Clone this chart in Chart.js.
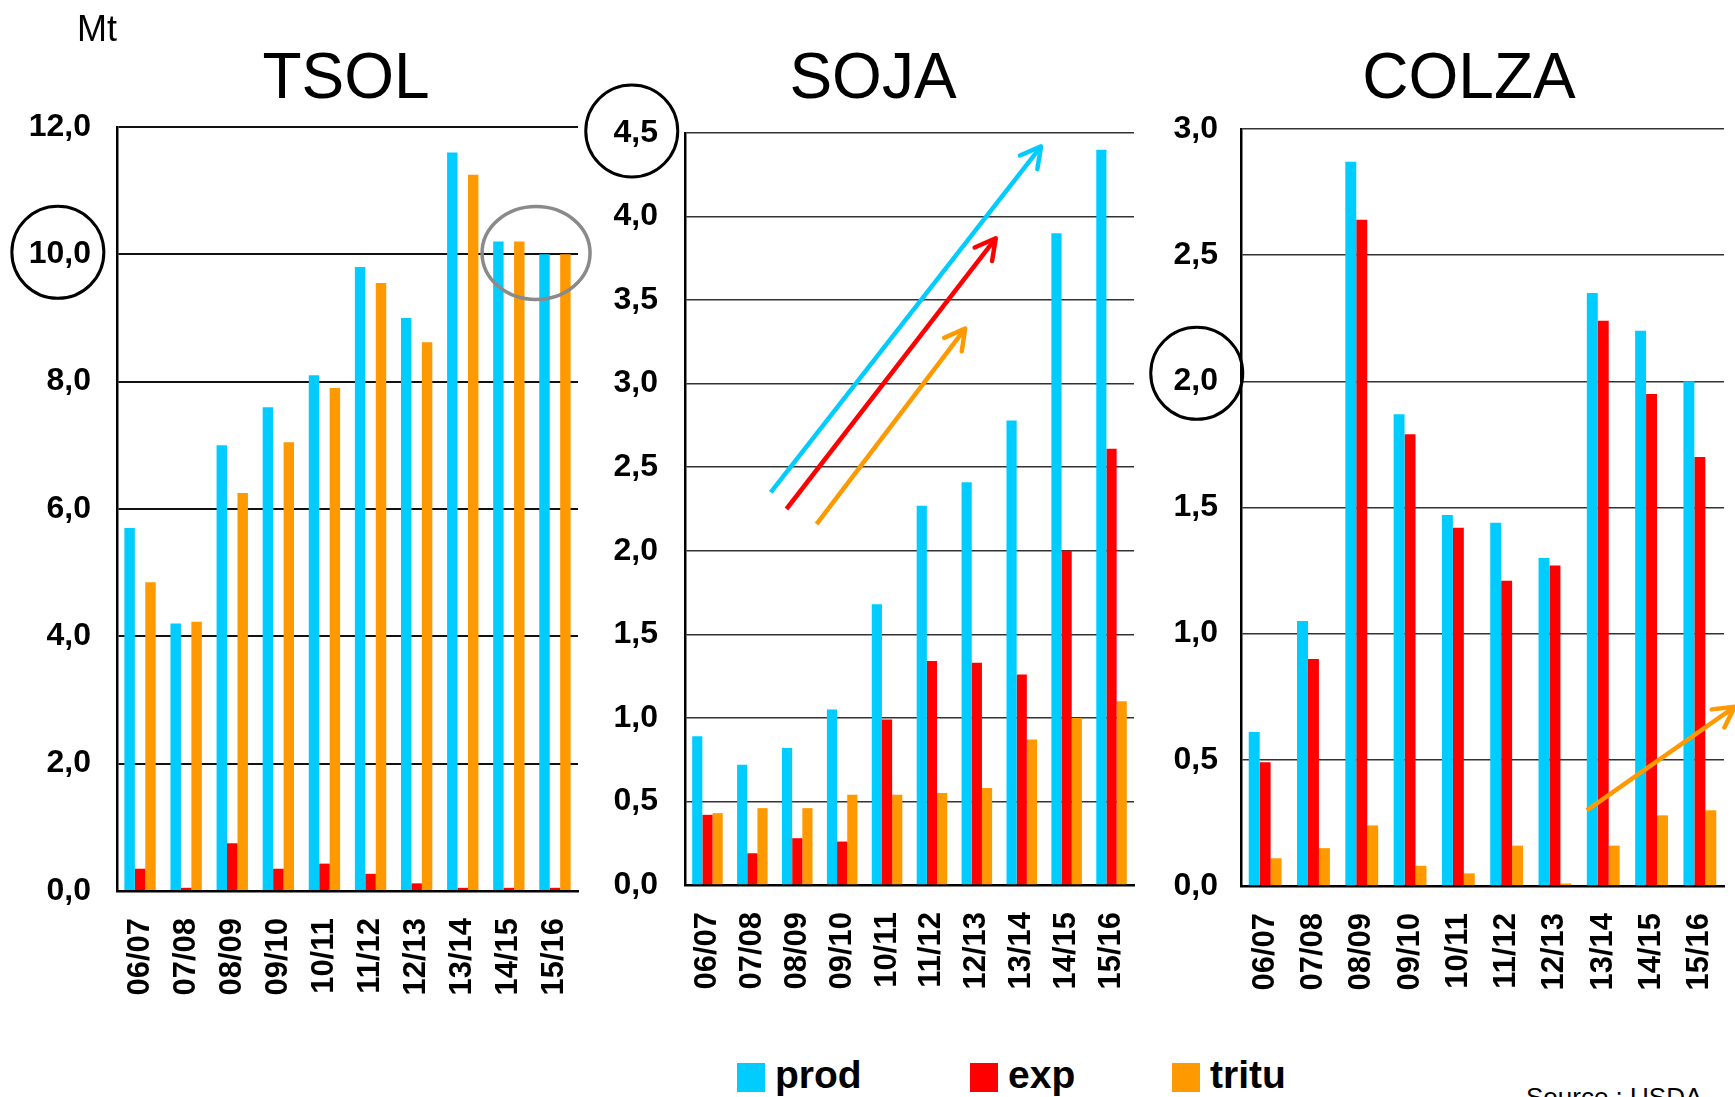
<!DOCTYPE html>
<html>
<head>
<meta charset="utf-8">
<title>TSOL / SOJA / COLZA</title>
<script src="https://cdn.jsdelivr.net/npm/chart.js@4.4.1/dist/chart.umd.min.js"></script>
<style>
    html, body { margin: 0; padding: 0; background: #fff; }
    body { width: 1735px; height: 1097px; position: relative; overflow: hidden;
           font-family: "Liberation Sans", Arial, sans-serif; color: #000; }
    canvas { position: absolute; top: 0; }
    #cTsol  { left: 0; }
    #cSoja  { left: 560px; }
    #cColza { left: 1140px; }
    .leg { position: absolute; top: 1055px; display: flex; align-items: flex-start;
           font-weight: bold; font-size: 39px; line-height: 39px; }
    .leg i { display: block; width: 28px; height: 29px; margin: 8px 10px 0 0; }
    #source { position: absolute; left: 1526px; top: 1084px; font-size: 26px; line-height: 26px; }
</style>
</head>
<body>
<canvas id="cTsol"  width="600" height="1000"></canvas>
<canvas id="cSoja"  width="600" height="1000"></canvas>
<canvas id="cColza" width="595" height="1000"></canvas>
<div id="legend"></div>
<div id="source">Source : USDA</div>

<script>
// ── Data ───────────────────────────────────────────────────────────────────

const SEASONS = ['06/07', '07/08', '08/09', '09/10', '10/11', '11/12', '12/13', '13/14', '14/15', '15/16'];
const SERIES  = ['prod', 'exp', 'tritu'];
const COLORS  = ['#00CCFF', '#FF0000', '#FF9900'];

const TSOL_PROD  = [5.70, 4.20, 7.00, 7.60, 8.10, 9.80, 9.00, 11.60, 10.20, 10.00];
const TSOL_EXP   = [0.35, 0.05, 0.75, 0.35, 0.43, 0.27, 0.12, 0.05, 0.05, 0.05];
const TSOL_TRITU = [4.85, 4.23, 6.25, 7.05, 7.90, 9.55, 8.62, 11.25, 10.20, 10.00];

const SOJA_PROD  = [0.89, 0.72, 0.82, 1.05, 1.68, 2.27, 2.41, 2.78, 3.90, 4.40];
const SOJA_EXP   = [0.42, 0.19, 0.28, 0.26, 0.99, 1.34, 1.33, 1.26, 2.00, 2.61];
const SOJA_TRITU = [0.43, 0.46, 0.46, 0.54, 0.54, 0.55, 0.58, 0.87, 1.00, 1.10];

const COLZA_PROD  = [0.61, 1.05, 2.87, 1.87, 1.47, 1.44, 1.30, 2.35, 2.20, 2.00];
const COLZA_EXP   = [0.49, 0.90, 2.64, 1.79, 1.42, 1.21, 1.27, 2.24, 1.95, 1.70];
const COLZA_TRITU = [0.11, 0.15, 0.24, 0.08, 0.05, 0.16, 0.01, 0.16, 0.28, 0.30];

const TSOL_TICKS  = ['0,0', '2,0', '4,0', '6,0', '8,0', '10,0', '12,0'];
const SOJA_TICKS  = ['0,0', '0,5', '1,0', '1,5', '2,0', '2,5', '3,0', '3,5', '4,0', '4,5'];
const COLZA_TICKS = ['0,0', '0,5', '1,0', '1,5', '2,0', '2,5', '3,0'];

// trend arrows, [category index, value] at tail and head
const SOJA_TRENDS = [
    { series: 0, from: [1.41, 2.35], to: [7.43, 4.42] },
    { series: 1, from: [1.76, 2.25], to: [6.42, 3.87] },
    { series: 2, from: [2.43, 2.16], to: [5.74, 3.33] },
];
const COLZA_TRENDS = [
    { series: 2, from: [6.66, 0.30], to: [9.72, 0.71] },
];

// ── Drawing helpers ────────────────────────────────────────────────────────

const FONT = "'Liberation Sans', Arial, sans-serif";
Chart.defaults.font.family = FONT;
Chart.defaults.color       = '#000';

function drawArrow(ctx, x0, y0, x1, y1, color) {
    const ang = Math.atan2(y1 - y0, x1 - x0);
    const head = 23, spread = 0.5;
    ctx.strokeStyle = color;
    ctx.lineWidth   = 4.5;
    ctx.lineCap     = 'butt';
    ctx.beginPath(); ctx.moveTo(x0, y0); ctx.lineTo(x1, y1); ctx.stroke();
    ctx.lineCap  = 'round';
    ctx.lineJoin = 'round';
    ctx.beginPath();
    ctx.moveTo(x1 - head * Math.cos(ang - spread), y1 - head * Math.sin(ang - spread));
    ctx.lineTo(x1, y1);
    ctx.lineTo(x1 - head * Math.cos(ang + spread), y1 - head * Math.sin(ang + spread));
    ctx.stroke();
}

const decorPlugin = {
    id: 'decor',
    afterDraw(chart, args, opts) {
        const { ctx } = chart;
        const xs = chart.scales.x, ys = chart.scales.y;
        ctx.save();

        ctx.fillStyle = '#000';
        ctx.textAlign = 'center';
        ctx.textBaseline = 'alphabetic';
        ctx.font = `64px ${FONT}`;
        ctx.fillText(opts.title.text, opts.title.x, opts.title.y);
        if (opts.unit) {
            ctx.textAlign = 'left';
            ctx.font = `36px ${FONT}`;
            ctx.fillText(opts.unit.text, opts.unit.x, opts.unit.y);
        }

        (opts.trends || []).forEach(t => drawArrow(ctx,
            xs.getPixelForValue(t.from[0]), ys.getPixelForValue(t.from[1]),
            xs.getPixelForValue(t.to[0]),   ys.getPixelForValue(t.to[1]),
            COLORS[t.series]));

        // circles round a y tick label
        ctx.font = `bold 32px ${FONT}`;
        (opts.circles || []).forEach(c => {
            const idx = ys.ticks.findIndex(t => Math.abs(t.value - c.value) < 1e-9);
            const w   = ctx.measureText(ys.ticks[idx].label).width;
            const cx  = ys.right - ys.options.ticks.padding - w / 2 + c.dx;
            const cy  = ys.getPixelForValue(c.value) + c.dy;
            ctx.strokeStyle = '#000';
            ctx.lineWidth = 3;
            ctx.beginPath(); ctx.arc(cx, cy, c.r, 0, Math.PI * 2); ctx.stroke();
        });

        if (opts.ring) {
            const r = opts.ring;
            ctx.strokeStyle = '#8a8a8a';
            ctx.lineWidth = 3.5;
            ctx.beginPath();
            ctx.ellipse(xs.getPixelForValue(r.at[0]), ys.getPixelForValue(r.at[1]), r.rx, r.ry, 0, 0, Math.PI * 2);
            ctx.stroke();
        }
        ctx.restore();
    },
};

function makePanel(id, p) {
    return new Chart(document.getElementById(id), {
        type: 'bar',
        data: {
            labels: SEASONS,
            datasets: SERIES.map((name, i) => ({
                label: name,
                data: p.values[i],
                backgroundColor: COLORS[i],
                borderWidth: 0,
                barPercentage: 1,
                categoryPercentage: 0.68,
            })),
        },
        options: {
            responsive: false,
            animation: false,
            devicePixelRatio: 1,
            layout: { padding: { top: p.top, right: p.right, bottom: 0, left: 0 } },
            plugins: {
                legend:  { display: false },
                tooltip: { enabled: false },
                decor:   p.decor,
            },
            scales: {
                x: {
                    grid:   { display: false, drawTicks: false },
                    border: { color: '#000', width: 2.5 },
                    ticks:  { autoSkip: false, minRotation: 90, maxRotation: 90, padding: 27,
                              font: { size: 31, weight: 'bold' } },
                    afterFit: s => { s.height = p.xAxisH; s.paddingLeft = 0; s.paddingRight = 0; },
                },
                y: {
                    min: 0,
                    max: p.max,
                    grid:   { color: p.gridColor, lineWidth: p.gridW, drawTicks: false },
                    border: { color: '#000', width: 2.5 },
                    ticks:  { stepSize: p.step, padding: p.tickPad,
                              font: { size: 32, weight: 'bold' },
                              callback: (v, i) => p.ticks[i] },
                    afterFit: s => { s.width = p.yAxisW; },
                },
            },
        },
        plugins: [decorPlugin],
    });
}

// ── Panels ─────────────────────────────────────────────────────────────────

makePanel('cTsol', {
    values: [TSOL_PROD, TSOL_EXP, TSOL_TRITU], ticks: TSOL_TICKS, max: 12, step: 2,
    top: 127, right: 22, yAxisW: 117, xAxisH: 109, tickPad: 26,
    gridColor: '#111', gridW: 2,
    decor: {
        title: { text: 'TSOL', x: 346, y: 98 },
        unit:  { text: 'Mt', x: 77, y: 41 },
        circles: [{ value: 10, dx: -2, dy: -2, r: 46 }],
        ring: { at: [8.59, 10.02], rx: 54, ry: 46.5 },
    },
});

makePanel('cSoja', {
    values: [SOJA_PROD, SOJA_EXP, SOJA_TRITU], ticks: SOJA_TICKS, max: 4.5, step: 0.5,
    top: 133, right: 26, yAxisW: 125, xAxisH: 115, tickPad: 27,
    gridColor: '#333', gridW: 1.6,
    decor: {
        title: { text: 'SOJA', x: 313, y: 98 },
        circles: [{ value: 4.5, dx: -4, dy: -2, r: 46 }],
        trends: SOJA_TRENDS,
    },
});

makePanel('cColza', {
    values: [COLZA_PROD, COLZA_EXP, COLZA_TRITU], ticks: COLZA_TICKS, max: 3, step: 0.5,
    top: 129, right: 11, yAxisW: 101, xAxisH: 114, tickPad: 23,
    gridColor: '#333', gridW: 1.6,
    decor: {
        title: { text: 'COLZA', x: 329, y: 98 },
        circles: [{ value: 2, dx: 1, dy: -8, r: 46 }],
        trends: COLZA_TRENDS,
    },
});

// ── Legend ─────────────────────────────────────────────────────────────────

const LEGEND_LEFT = [737, 970, 1172];
SERIES.forEach((name, i) => {
    const item = document.createElement('div');
    item.className  = 'leg';
    item.style.left = LEGEND_LEFT[i] + 'px';
    item.innerHTML  = `<i style="background:${COLORS[i]}"></i><span>${name}</span>`;
    document.getElementById('legend').appendChild(item);
});
</script>
</body>
</html>
